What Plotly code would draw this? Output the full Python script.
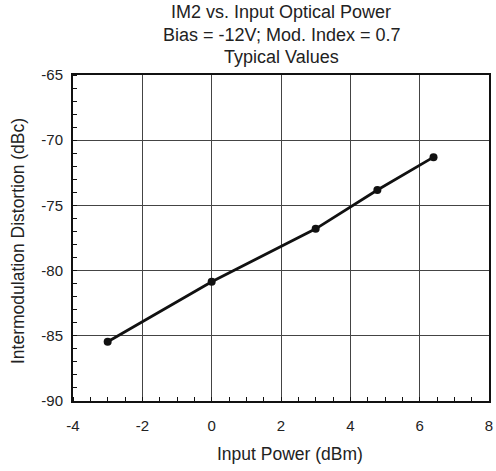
import plotly.graph_objects as go

input_power = [-3.0, 0.0, 3.0, 4.78, 6.4]
im2_dbc = [-85.45, -80.85, -76.8, -73.82, -71.3]

x_ticks = [-4, -2, 0, 2, 4, 6, 8]
y_ticks = [-90, -85, -80, -75, -70, -65]

title_lines = ["IM2 vs. Input Optical Power", "Bias = -12V; Mod. Index = 0.7", "Typical Values"]
x_title = "Input Power (dBm)"
y_title = "Intermodulation Distortion (dBc)"

font_family = "Liberation Sans, Arial, Helvetica, sans-serif"
txt = "#222"

W, H = 496, 471
L, T, R, B = 73, 75, 7, 70
pw, ph = W - L - R, H - T - B


def px_to_paper_x(px):
    return (px - L) / pw


def px_to_paper_y(py):
    return (H - B - py) / ph


fig = go.Figure()
fig.add_trace(go.Scatter(
    x=input_power, y=im2_dbc, mode="lines+markers",
    line=dict(color="#111", width=2.8),
    marker=dict(color="#111", size=8),
    showlegend=False,
))

annotations = []
for line_text, cy in zip(title_lines, [12, 35, 57]):
    annotations.append(dict(
        text=line_text, xref="paper", yref="paper",
        x=0.5, y=px_to_paper_y(cy), xanchor="center", yanchor="middle",
        showarrow=False, font=dict(family=font_family, size=18, color=txt),
    ))
annotations.append(dict(
    text=x_title, xref="paper", yref="paper",
    x=px_to_paper_x(290), y=px_to_paper_y(454), xanchor="center", yanchor="middle",
    showarrow=False, font=dict(family=font_family, size=17.5, color=txt),
))
annotations.append(dict(
    text=y_title, xref="paper", yref="paper", textangle=-90,
    x=px_to_paper_x(18), y=px_to_paper_y(241), xanchor="center", yanchor="middle",
    showarrow=False, font=dict(family=font_family, size=17.5, color=txt),
))

fig.update_layout(
    width=W, height=H,
    margin=dict(l=L, r=R, t=T, b=B, autoexpand=False),
    paper_bgcolor="white", plot_bgcolor="white",
    font=dict(family=font_family, size=15, color=txt),
    annotations=annotations,
)

fig.update_xaxes(
    range=[-4, 8], tickvals=x_ticks, ticktext=[str(v) for v in x_ticks],
    showgrid=True, gridcolor="#444", gridwidth=1,
    showline=True, linecolor="#111", linewidth=2, mirror=True,
    ticks="", zeroline=False, automargin=False, ticklabeloverflow="allow",
    minor=dict(dtick=0.5, ticks="inside", ticklen=4, tickcolor="#111", tickwidth=1, showgrid=False),
    ticklabelstandoff=10,
)
fig.update_yaxes(
    range=[-90, -65], tickvals=y_ticks, ticktext=[str(v) for v in y_ticks],
    showgrid=True, gridcolor="#444", gridwidth=1,
    showline=True, linecolor="#111", linewidth=2, mirror=True,
    ticks="", zeroline=False, automargin=False, ticklabeloverflow="allow",
    minor=dict(dtick=1, ticks="inside", ticklen=4, tickcolor="#111", tickwidth=1, showgrid=False),
    ticklabelstandoff=5,
)

fig.write_html(
    "out.html",
    config={"displayModeBar": False, "staticPlot": True},
    post_script="document.body.style.margin='0';document.body.style.overflow='hidden';",
)
